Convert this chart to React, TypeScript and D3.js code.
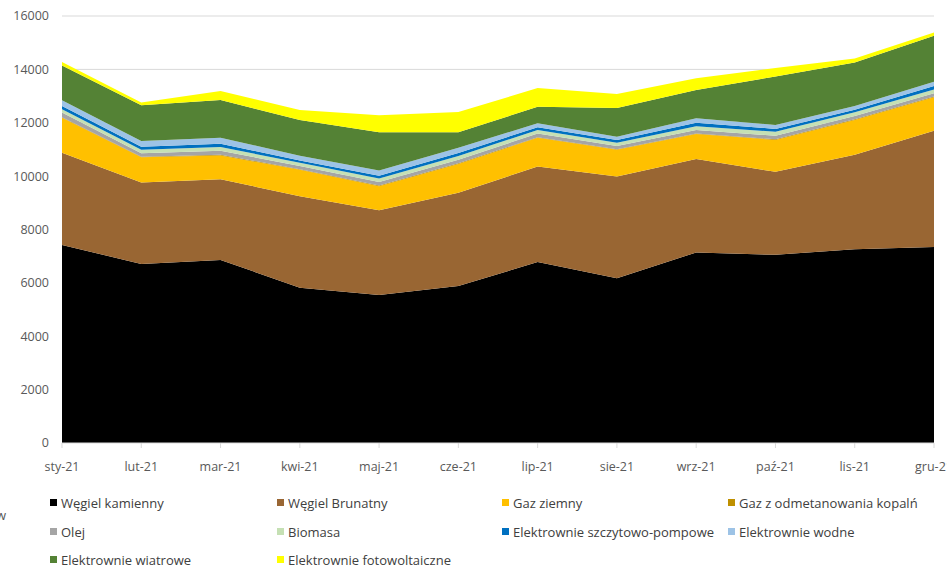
import React from "react";
import * as d3 from "d3";

const months = ["sty-21", "lut-21", "mar-21", "kwi-21", "maj-21", "cze-21", "lip-21", "sie-21", "wrz-21", "paź-21", "lis-21", "gru-21"];

const seriesNames = [
  "Węgiel kamienny",
  "Węgiel Brunatny",
  "Gaz ziemny",
  "Gaz z odmetanowania kopalń",
  "Olej",
  "Biomasa",
  "Elektrownie szczytowo-pompowe",
  "Elektrownie wodne",
  "Elektrownie wiatrowe",
  "Elektrownie fotowoltaiczne",
];

const wegielKamienny = [7420, 6710, 6860, 5820, 5550, 5880, 6780, 6170, 7140, 7050, 7260, 7340];
const wegielBrunatny = [3460, 3050, 3020, 3430, 3170, 3500, 3580, 3820, 3500, 3110, 3540, 4360];
const gazZiemny = [1305, 945, 895, 985, 905, 1075, 1075, 995, 935, 1195, 1305, 1255];
const gazOdmetanowania = [25, 25, 25, 25, 25, 25, 25, 25, 25, 25, 25, 25];
const olej = [170, 130, 150, 120, 130, 130, 140, 120, 130, 130, 120, 130];
const biomasa = [130, 130, 140, 120, 130, 140, 130, 120, 140, 150, 140, 140];
const szczytowoPompowe = [120, 110, 120, 90, 100, 120, 100, 100, 130, 110, 100, 130];
const wodne = [215, 215, 230, 170, 200, 190, 150, 130, 170, 150, 140, 160];
const wiatrowe = [1300, 1340, 1410, 1340, 1430, 580, 620, 1070, 1060, 1810, 1630, 1720];
const fotowoltaiczne = [130, 100, 340, 380, 640, 760, 700, 530, 440, 320, 150, 120];

const yTicks = [0, 2000, 4000, 6000, 8000, 10000, 12000, 14000, 16000];

const seriesValues = [
  wegielKamienny, wegielBrunatny, gazZiemny, gazOdmetanowania, olej,
  biomasa, szczytowoPompowe, wodne, wiatrowe, fotowoltaiczne,
];

const colors = [
  "#000000", "#996633", "#FFC000", "#BF9000", "#A5A5A5",
  "#C5E0B4", "#0070C0", "#9DC3E6", "#548235", "#FFFF00",
];

const W = 947;
const H = 568;
const left = 62;
const right = 934;
const top = 16;
const bottom = 443;

export default function App() {
  const rows = months.map((m, i) => {
    const r: any = { month: m };
    seriesNames.forEach((s, j) => (r[s] = seriesValues[j][i]));
    return r;
  });
  const stack = d3.stack<any>().keys(seriesNames)(rows);
  const x = d3.scalePoint<string>().domain(months).range([left, right]);
  const y = d3.scaleLinear().domain([0, 16000]).range([bottom, top]);
  const area = d3
    .area<any>()
    .x((d) => x(d.data.month) as number)
    .y0((d) => y(d[0]))
    .y1((d) => y(d[1]))
    .curve(d3.curveLinear);

  const font = "'Open Sans', 'Liberation Sans', sans-serif";
  const legendCols = [50, 277, 502, 728];
  const legendRows = [503, 532, 560];

  return (
    <svg width={W} height={H} style={{ position: "absolute", left: 0, top: 0, background: "#fff" }} fontFamily={font}>
      {yTicks.map((t) => (
        <g key={t}>
          {t > 0 && <line x1={left} x2={right} y1={y(t)} y2={y(t)} stroke="#d9d9d9" strokeWidth={1} />}
          <text x={49} y={y(t)} dy="0.35em" textAnchor="end" fontSize={12.5} fill="#595959">
            {t}
          </text>
        </g>
      ))}
      {stack.map((s, i) => (
        <path key={seriesNames[i]} d={area(s) || ""} fill={colors[i]} />
      ))}
      <line x1={left} x2={right} y1={bottom} y2={bottom} stroke="#d9d9d9" />
      {months.map((m) => (
        <g key={m}>
          <line x1={x(m)} x2={x(m)} y1={bottom} y2={bottom + 5} stroke="#d9d9d9" />
          <text x={x(m)} y={467} dy="0.35em" textAnchor="middle" fontSize={12.5} fill="#595959">
            {m}
          </text>
        </g>
      ))}
      <text x={6} y={515} dy="0.35em" textAnchor="end" fontSize={13} fill="#595959">ow</text>
      {seriesNames.map((s, i) => {
        const cx = legendCols[i % 4];
        const cy = legendRows[Math.floor(i / 4)];
        return (
          <g key={s}>
            <rect x={cx} y={cy - 4} width={7} height={7} fill={colors[i]} />
            <text x={cx + 11} y={cy} dy="0.35em" fontSize={13} fill="#404040">
              {s}
            </text>
          </g>
        );
      })}
    </svg>
  );
}
